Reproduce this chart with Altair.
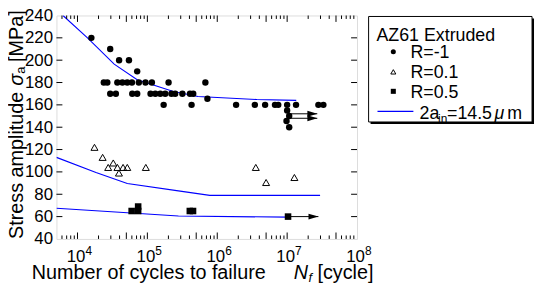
import altair as alt
import pandas as pd
import numpy as np

FONT = "Liberation Sans"

# ---------------- data ----------------
# R = -1 (filled circles)
rm1_N = [15800, 29400, 39400, 54500, 71500,
         23800, 26700, 37200, 43900, 51600, 60100, 75500, 94000, 116000, 201000, 676000,
         29400, 35400, 60800, 71500, 111000, 130000, 153000, 180000, 221000, 250000, 317000, 407000, 453000,
         723000,
         171000, 429000, 1.86e6, 3.45e6, 4.84e6, 6.7e6, 7.46e6, 1.0e7, 1.34e7, 2.8e7, 3.3e7,
         1.0e7, 1.07e7, 0.98e7, 1.07e7]
rm1_S = [220, 210, 200, 200, 190,
         180, 180, 180, 180, 180, 180, 180, 180, 180, 180, 180,
         170, 170, 170, 170, 170, 170, 170, 170, 170, 170, 170, 170, 170,
         165.5,
         160, 160, 160, 160, 160, 160, 160, 160, 160, 160, 160,
         155, 150, 145.5, 140]

# R = 0.1 (open triangles)
r01_N = [17500, 22900, 32500, 27500, 37300, 44900, 51600, 39200, 95000, 3.56e6, 5.0e6, 1.27e7]
r01_S = [122, 113, 108, 104, 104, 104, 104, 99, 104, 104, 90.5, 95]

# R = 0.5 (filled squares)
r05_N = [59600, 73800, 73800, 405000, 450000, 1.03e7]
r05_S = [65, 65, 69, 65, 65, 60]

# model curves 2a_in = 14.5 um
line_id = ["a"] * 8 + ["b"] * 6 + ["c"] * 4
line_N = [6200, 13900, 33500, 71500, 236000, 530000, 3.7e6, 1.35e7,
          5000, 18400, 51600, 278000, 782000, 2.96e7,
          5000, 51600, 278000, 1.0e7]
line_S = [240, 220, 196.5, 182.5, 172, 167.5, 164.8, 164,
          113, 99.5, 89.6, 83, 79, 79,
          67.5, 63.5, 60.5, 59.5]

# run-out arrows
arrow_N0 = [1.07e7, 1.07e7, 1.03e7]
arrow_N1 = [2.7e7, 2.7e7, 2.8e7]
arrow_S = [152, 148, 60]

# axis ticks / labels
x_major = [1e4, 5e4, 1e5, 5e5, 1e6, 5e6, 1e7, 5e7]
x_minor = [6e3, 7e3, 8e3, 9e3, 2e4, 3e4, 4e4, 6e4, 7e4, 8e4, 9e4,
           2e5, 3e5, 4e5, 6e5, 7e5, 8e5, 9e5, 2e6, 3e6, 4e6, 6e6, 7e6, 8e6, 9e6,
           2e7, 3e7, 4e7, 6e7, 7e7, 8e7, 9e7]
x_label_vals = [1e4, 1e5, 1e6, 1e7, 1e8]
y_label_vals = [40, 60, 80, 100, 120, 140, 160, 180, 200, 220, 240]
y_tick_vals = [60, 80, 100, 120, 140, 160, 180, 200, 220]

legend_title = "AZ61 Extruded"
legend_labels = ["R=-1", "R=0.1", "R=0.5"]

# ---------------- chart ----------------
W, H = 304, 226
xs = alt.Scale(type="log", domain=[5000, 1e8], nice=False)
ys = alt.Scale(domain=[40, 240], nice=False, zero=False)
y_axis = alt.Axis(values=y_label_vals, ticks=False, tickSize=0, domain=False, grid=False,
                  labelFont=FONT, labelFontSize=17, labelColor="black", labelPadding=4,
                  title=None)


def X(f):
    return alt.X(f, type="quantitative", scale=xs, axis=None)


def Y(f):
    return alt.Y(f, type="quantitative", scale=ys, axis=y_axis)


df_m1 = pd.DataFrame({"N": rm1_N, "S": rm1_S})
df_01 = pd.DataFrame({"N": r01_N, "S": r01_S})
df_05 = pd.DataFrame({"N": r05_N, "S": r05_S})
df_line = pd.DataFrame({"id": line_id, "N": line_N, "S": line_S})
df_arrow = pd.DataFrame({"N0": arrow_N0, "N1": arrow_N1, "S": arrow_S})

lines = alt.Chart(df_line).mark_line(color="#0000ff", strokeWidth=1.1, clip=True).encode(
    x=X("N"), y=Y("S"), detail="id:N")

pts_m1 = alt.Chart(df_m1).mark_point(shape="circle", filled=True, size=42, color="black", opacity=1).encode(
    x=X("N"), y=Y("S"))
pts_01 = alt.Chart(df_01).mark_point(shape="triangle-up", filled=False, size=50, color="black",
                                     strokeWidth=1, opacity=1).encode(x=X("N"), y=Y("S"))
pts_05 = alt.Chart(df_05).mark_point(shape="square", filled=True, size=44, color="black", opacity=1).encode(
    x=X("N"), y=Y("S"))

arr_line = alt.Chart(df_arrow).mark_rule(color="black", strokeWidth=1).encode(
    x=X("N0"), x2="N1", y=Y("S"))
arr_head = alt.Chart(df_arrow).mark_point(shape="M-2,-0.6L0,0L-2,0.6Z", filled=True, size=100,
                                          color="black", opacity=1).encode(x=X("N1"), y=Y("S"))

# inward ticks
df_xmaj = pd.DataFrame({"N": x_major})
df_xmin = pd.DataFrame({"N": x_minor})
df_yt = pd.DataFrame({"S": y_tick_vals})
tick_layers = []
for df, L in [(df_xmaj, 6.5), (df_xmin, 3.5)]:
    tick_layers.append(alt.Chart(df).mark_rule(color="black", strokeWidth=1).encode(
        x=X("N"), y=alt.value(H), y2=alt.value(H - L)))
    tick_layers.append(alt.Chart(df).mark_rule(color="black", strokeWidth=1).encode(
        x=X("N"), y=alt.value(0), y2=alt.value(L)))
tick_layers.append(alt.Chart(df_yt).mark_rule(color="black", strokeWidth=1).encode(
    y=Y("S"), x=alt.value(0), x2=alt.value(6)))
tick_layers.append(alt.Chart(df_yt).mark_rule(color="black", strokeWidth=1).encode(
    y=Y("S"), x=alt.value(W), x2=alt.value(W - 6)))

# x tick labels 10^n
df_xl = pd.DataFrame({"N": x_label_vals,
                      "e": [str(int(round(np.log10(v)))) for v in x_label_vals]})
xl_base = alt.Chart(df_xl).mark_text(align="right", baseline="alphabetic", font=FONT, fontSize=17,
                                     dx=8, color="black").encode(x=X("N"), y=alt.value(249), text=alt.value("10"))
xl_exp = alt.Chart(df_xl).mark_text(align="left", baseline="alphabetic", font=FONT, fontSize=12,
                                    dx=8, dy=-7, color="black").encode(x=X("N"), y=alt.value(249), text="e:N")

one = pd.DataFrame({"k": [0]})


def txt(s, x, y, size=20, angle=0, style="normal", align="left"):
    kw = dict(align=align, baseline="alphabetic", font=FONT, fontSize=size, color="black",
              fontStyle=style)
    if angle:
        kw["angle"] = angle
    return alt.Chart(pd.DataFrame({"t": [s]})).mark_text(**kw).encode(
        text="t:N", x=alt.value(x), y=alt.value(y))


# axis titles
titles = [
    txt("Number of cycles to failure", -25, 267),
    txt("N", 240, 267, style="italic"),
    txt("f", 255, 269.5, size=13, style="italic"),
    txt("[cycle]", 264, 267),
    txt("Stress amplitude", -34, 226, angle=270),
    txt("σ", -34, 71, angle=270, style="italic"),
    txt("a", -31.5, 59, size=13, angle=270),
    txt("[MPa]", -34, 47, angle=270),
]

# legend
lg = []
lg.append(alt.Chart(one).mark_rect(fill="black").encode(
    x=alt.value(317.7), x2=alt.value(483), y=alt.value(3), y2=alt.value(109.7)))
lg.append(alt.Chart(one).mark_rect(fill="white", stroke="black", strokeWidth=1).encode(
    x=alt.value(315.7), x2=alt.value(481), y=alt.value(1), y2=alt.value(107.7)))
lg.append(txt(legend_title, 323.7, 25.3, size=18))
for lab, sh, fil, yy in zip(legend_labels, ["circle", "triangle-up", "square"], [True, False, True],
                            [36.7, 57, 76.7]):
    lg.append(alt.Chart(one).mark_point(shape=sh, filled=fil, size=26, color="black", opacity=1,
                                        strokeWidth=1).encode(x=alt.value(340.7), y=alt.value(yy)))
    lg.append(txt(lab, 358, yy + 6.6, size=18))
lg.append(alt.Chart(one).mark_rule(color="#0000ff", strokeWidth=1.1).encode(
    x=alt.value(324.7), x2=alt.value(361), y=alt.value(97)))
lg.append(txt("2a", 367.3, 104.7, size=18))
lg.append(txt("in", 386, 108.7, size=12))
lg.append(txt("=14.5", 395, 104.7, size=18))
lg.append(txt("μ", 443, 104.7, size=18, style="italic"))
lg.append(txt("m", 456, 104.7, size=18))

chart = alt.layer(
    lines, pts_m1, pts_01, pts_05, arr_line, arr_head, *tick_layers, xl_base, xl_exp, *titles, *lg
).properties(
    width=W, height=H,
    autosize=alt.AutoSizeParams(type="none"),
    padding={"left": 49, "top": 6, "right": 180, "bottom": 44},
).configure_view(stroke="black", strokeWidth=1).configure(background="white")

chart.save("out.html", embed_options={"renderer": "svg", "actions": False})
